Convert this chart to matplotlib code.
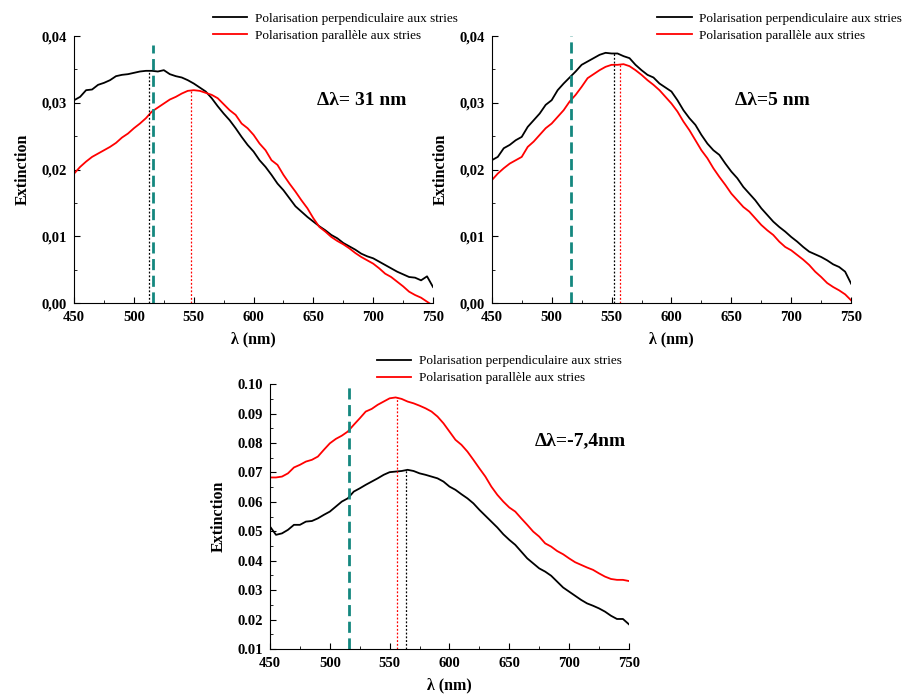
import numpy as np
import matplotlib
matplotlib.use('Agg')
import matplotlib.pyplot as plt
from matplotlib.ticker import MultipleLocator, FuncFormatter

plt.rcParams['font.family'] = ['Liberation Serif', 'DejaVu Serif']
plt.rcParams['font.weight'] = 'bold'

# wavelengths, read every 5 nm
wl = list(range(450, 755, 5))

p1_perp = [0.0304, 0.0309, 0.0319, 0.0320, 0.0327, 0.0330, 0.0334, 0.0340, 0.0342, 0.0343,
           0.0345, 0.0347, 0.0348, 0.0348, 0.0347, 0.0349, 0.0343, 0.0340, 0.0338, 0.0334,
           0.0329, 0.0323, 0.0317, 0.0307, 0.0295, 0.0284, 0.0274, 0.0262, 0.0249, 0.0237,
           0.0227, 0.0214, 0.0204, 0.0192, 0.0179, 0.0169, 0.0157, 0.0145, 0.0137, 0.0129,
           0.0122, 0.0115, 0.0109, 0.0102, 0.0097, 0.0090, 0.0085, 0.0080, 0.0074, 0.0070,
           0.0067, 0.0062, 0.0057, 0.0052, 0.0047, 0.0043, 0.0039, 0.0038, 0.0034, 0.0040,
           0.0024]
p1_para = [0.0194, 0.0204, 0.0212, 0.0219, 0.0224, 0.0229, 0.0234, 0.0240, 0.0248, 0.0254,
           0.0262, 0.0269, 0.0277, 0.0287, 0.0293, 0.0299, 0.0305, 0.0309, 0.0314, 0.0318,
           0.0319, 0.0318, 0.0315, 0.0312, 0.0307, 0.0298, 0.0289, 0.0282, 0.0269, 0.0262,
           0.0252, 0.0239, 0.0229, 0.0214, 0.0207, 0.0192, 0.0179, 0.0167, 0.0154, 0.0142,
           0.0127, 0.0114, 0.0107, 0.0099, 0.0093, 0.0088, 0.0082, 0.0075, 0.0069, 0.0064,
           0.0059, 0.0052, 0.0044, 0.0039, 0.0032, 0.0025, 0.0017, 0.0012, 0.0008, 0.0002,
           -0.0004]

p2_perp = [0.0214, 0.0219, 0.0232, 0.0237, 0.0244, 0.0249, 0.0264, 0.0274, 0.0284, 0.0297,
           0.0304, 0.0319, 0.0329, 0.0338, 0.0347, 0.0357, 0.0362, 0.0367, 0.0372, 0.0375,
           0.0374, 0.0374, 0.0370, 0.0367, 0.0357, 0.0349, 0.0342, 0.0338, 0.0329, 0.0323,
           0.0317, 0.0304, 0.0289, 0.0277, 0.0267, 0.0252, 0.0239, 0.0229, 0.0222, 0.0209,
           0.0197, 0.0187, 0.0174, 0.0164, 0.0154, 0.0142, 0.0132, 0.0122, 0.0114, 0.0107,
           0.0099, 0.0092, 0.0084, 0.0077, 0.0073, 0.0069, 0.0064, 0.0058, 0.0054, 0.0047,
           0.0029]
p2_para = [0.0184, 0.0194, 0.0202, 0.0209, 0.0214, 0.0219, 0.0234, 0.0242, 0.0252, 0.0262,
           0.0269, 0.0279, 0.0289, 0.0302, 0.0312, 0.0324, 0.0337, 0.0343, 0.0349, 0.0354,
           0.0357, 0.0357, 0.0358, 0.0355, 0.0349, 0.0342, 0.0334, 0.0327, 0.0319, 0.0309,
           0.0299, 0.0287, 0.0272, 0.0259, 0.0244, 0.0229, 0.0217, 0.0202, 0.0189, 0.0177,
           0.0164, 0.0154, 0.0144, 0.0137, 0.0127, 0.0117, 0.0109, 0.0102, 0.0092, 0.0084,
           0.0079, 0.0072, 0.0065, 0.0057, 0.0047, 0.0039, 0.0030, 0.0024, 0.0019, 0.0013,
           0.0004]

p3_perp = [0.0516, 0.0488, 0.0493, 0.0505, 0.0522, 0.0522, 0.0533, 0.0535, 0.0544, 0.0556,
           0.0567, 0.0584, 0.0601, 0.0612, 0.0635, 0.0646, 0.0658, 0.0669, 0.0680, 0.0692,
           0.0701, 0.0703, 0.0705, 0.0709, 0.0705, 0.0697, 0.0692, 0.0686, 0.0680, 0.0669,
           0.0652, 0.0641, 0.0626, 0.0612, 0.0595, 0.0573, 0.0553, 0.0533, 0.0513, 0.0490,
           0.0471, 0.0454, 0.0431, 0.0408, 0.0391, 0.0374, 0.0363, 0.0349, 0.0329, 0.0309,
           0.0295, 0.0281, 0.0267, 0.0255, 0.0247, 0.0238, 0.0227, 0.0213, 0.0202, 0.0202,
           0.0184]
p3_para = [0.0683, 0.0683, 0.0686, 0.0697, 0.0717, 0.0726, 0.0737, 0.0743, 0.0754, 0.0777,
           0.0799, 0.0814, 0.0825, 0.0839, 0.0862, 0.0884, 0.0907, 0.0916, 0.0930, 0.0941,
           0.0952, 0.0955, 0.0950, 0.0941, 0.0935, 0.0927, 0.0918, 0.0907, 0.0890, 0.0867,
           0.0839, 0.0811, 0.0794, 0.0771, 0.0743, 0.0714, 0.0686, 0.0652, 0.0624, 0.0601,
           0.0581, 0.0567, 0.0544, 0.0522, 0.0499, 0.0482, 0.0459, 0.0448, 0.0433, 0.0422,
           0.0408, 0.0395, 0.0386, 0.0377, 0.0369, 0.0357, 0.0346, 0.0338, 0.0335, 0.0335,
           0.0331]

# reference (teal) line and peak positions (nm, height)
ref_wl = 516
p1_peaks = [(513, 0.0349, 'black'), (548, 0.0320, 'red')]
p2_peaks = [(552, 0.0376, 'black'), (557, 0.0360, 'red')]
p3_peaks = [(556, 0.0955, 'red'), (564, 0.0709, 'black')]

labels = ['Polarisation perpendiculaire aux stries', 'Polarisation parallèle aux stries']

fig = plt.figure(figsize=(9.04, 6.95), dpi=100)
ax1 = fig.add_axes([0.082, 0.564, 0.397, 0.384])
ax2 = fig.add_axes([0.544, 0.564, 0.3975, 0.384])
ax3 = fig.add_axes([0.2987, 0.0662, 0.397, 0.381])

comma = FuncFormatter(lambda v, p: f'{v:.2f}'.replace('.', ','))
dot = FuncFormatter(lambda v, p: f'{v:.2f}')

panels = [
    (ax1, p1_perp, p1_para, p1_peaks, (0, 0.04), 0.01, comma, 0.0387,
     'Δλ= 31 nm', (0.677, 0.76), (0.2356, 0.982)),
    (ax2, p2_perp, p2_para, p2_peaks, (0, 0.04), 0.01, comma, 0.0400,
     'Δλ=5 nm', (0.677, 0.76), (0.727, 0.982)),
    (ax3, p3_perp, p3_para, p3_peaks, (0.01, 0.10), 0.01, dot, 0.100,
     'Δλ=-7,4nm', (0.738, 0.785), (0.417, 0.489)),
]

for ax, perp, para, peaks, ylim, ystep, fmt, teal_top, note, note_pos, leg_pos in panels:
    ax.plot(wl, perp, color='black', lw=1.3, label=labels[0])
    ax.plot(wl, para, color='red', lw=1.3, label=labels[1])
    ax.vlines(ref_wl, ylim[0], teal_top, colors='#14877f', linestyles=(0, (4, 2)), lw=2)
    for x, h, c in peaks:
        ax.vlines(x, ylim[0], h, colors=c, linestyles=(0, (1.5, 1.5)), lw=0.9)
    ax.set_xlim(450, 750)
    ax.set_ylim(*ylim)
    ax.xaxis.set_major_locator(MultipleLocator(50))
    ax.xaxis.set_minor_locator(MultipleLocator(25))
    ax.yaxis.set_major_locator(MultipleLocator(ystep))
    ax.yaxis.set_minor_locator(MultipleLocator(ystep / 2))
    ax.yaxis.set_major_formatter(fmt)
    ax.spines['top'].set_visible(False)
    ax.spines['right'].set_visible(False)
    ax.tick_params(which='both', direction='in', labelsize=10.5)
    ax.tick_params(axis='x', which='major', pad=6)
    ax.tick_params(axis='y', which='major', pad=5)
    ax.tick_params(which='major', length=4)
    ax.tick_params(which='minor', length=2.5)
    ax.set_xlabel('λ (nm)', fontsize=11.5, fontweight='bold', labelpad=5)
    ax.set_ylabel('Extinction', fontsize=11.5, fontweight='bold', labelpad=8)
    ax.text(note_pos[0], note_pos[1], note, transform=ax.transAxes, fontsize=14,
            fontweight='bold', va='center', ha='left')
    ax.legend(loc='upper left', bbox_to_anchor=leg_pos, bbox_transform=fig.transFigure,
              frameon=False, handlelength=2.6, handletextpad=0.6,
              labelspacing=0.35, borderpad=0, borderaxespad=0,
              prop={'family': ['Liberation Serif'], 'weight': 'normal', 'size': 9.5})

fig.savefig('out.png', dpi=100)
